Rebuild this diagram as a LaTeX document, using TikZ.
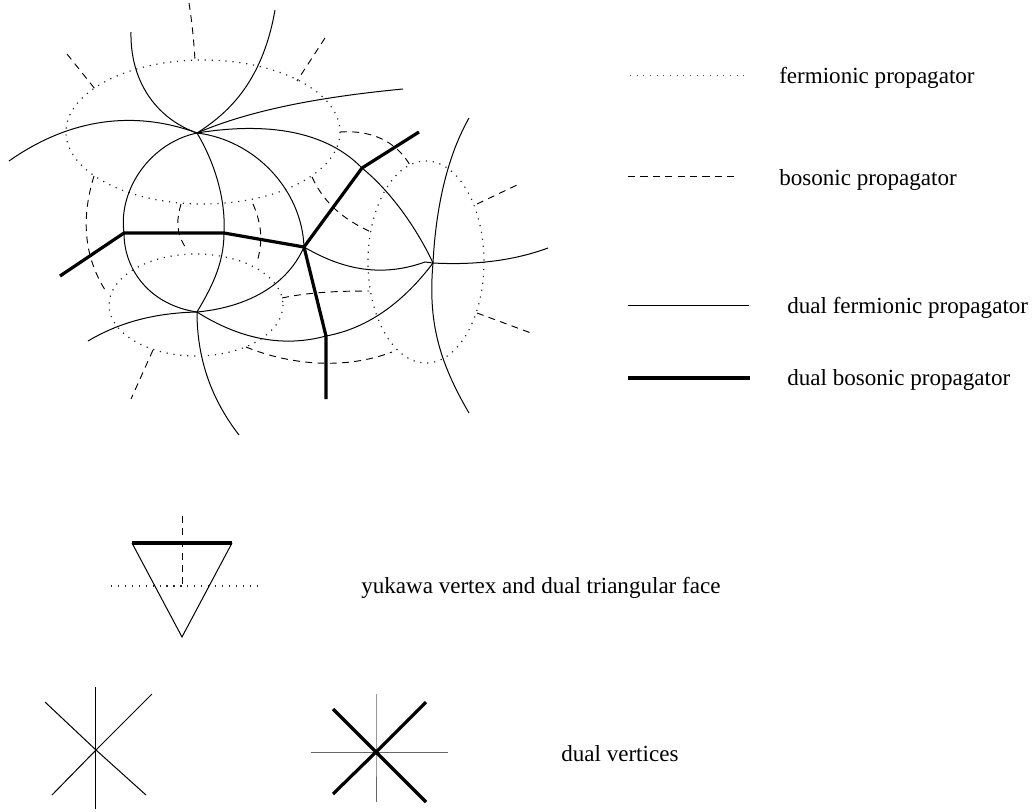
\documentclass[tikz,border=0pt]{standalone}
\usepackage{fontspec}
\setmainfont{Liberation Serif}
\tikzset{
 x=0.75pt,y=-0.75pt,
 ferm/.style={line width=0.9pt,dash pattern=on 0.9pt off 4.3pt,black!85},
 bos/.style={line width=0.7pt,dash pattern=on 5.2pt off 4pt},
 dferm/.style={line width=0.75pt},
 dbos/.style={line width=2.4pt,line join=miter},
 lab/.style={anchor=west,inner sep=0pt,font=\fontsize{17.3pt}{19pt}\selectfont},
}
\begin{document}
\begin{tikzpicture}
\useasboundingbox (0,0) rectangle (1032,811);
% vertices
\coordinate (A) at (197,133);
\coordinate (B) at (304,247);
\coordinate (C) at (197,312);
\coordinate (D) at (433,263);
\coordinate (P) at (124,233);
\coordinate (Q) at (224,233);
\coordinate (R) at (362,168);
\coordinate (S) at (326,336);
% dotted ellipses
\draw[ferm] (203,132) ellipse [x radius=137,y radius=72];
\draw[ferm] (196,305) ellipse [x radius=87,y radius=51];
\draw[ferm] (426,262) ellipse [x radius=58,y radius=101];
% dashed
\draw[bos] (189,3) .. controls (192,22) and (194,42) .. (195,61);
\draw[bos] (67,54) -- (95,89);
\draw[bos] (325,38) -- (297,81);
\draw[bos] (94,176) .. controls (82,215) and (82,255) .. (107,293);
\draw[bos] (181,204) .. controls (177,218) and (175,232) .. (186,248);
\draw[bos] (253,204) .. controls (262,225) and (263,242) .. (257,262);
\draw[bos] (340,132) .. controls (370,130) and (395,140) .. (410,165);
\draw[bos] (312,177) .. controls (325,205) and (345,220) .. (371,232);
\draw[bos] (282,298) .. controls (310,292) and (340,291) .. (369,291);
\draw[bos] (246,347) .. controls (290,365) and (345,370) .. (392,352);
\draw[bos] (477,204) -- (517,185);
\draw[bos] (477,313) -- (531,333);
\draw[bos] (153,350) -- (131,399);
% thin dual lines
\coordinate (a1) at (9,161);
\coordinate (a2) at (131,32);
\coordinate (a3) at (275,10);
\coordinate (a4) at (403,89);
\coordinate (c1) at (88,341);
\coordinate (c2) at (239,435);
\coordinate (d1) at (469,118);
\coordinate (d2) at (469,413);
\coordinate (d3) at (548,248);
\draw[dferm] (a1) .. controls (70,118) and (135,110) .. (A);
\draw[dferm] (a2) .. controls (130,80) and (155,118) .. (A);
\draw[dferm] (a3) .. controls (262,85) and (225,115) .. (A);
\draw[dferm] (A) .. controls (255,108) and (330,96) .. (a4);
\draw[dferm] (A) .. controls (150,143) and (118,190) .. (P);
\draw[dferm] (A) .. controls (212,158) and (226,195) .. (Q);
\draw[dferm] (A) .. controls (255,140) and (302,190) .. (B);
\draw[dferm] (A) .. controls (265,122) and (325,130) .. (R);
\draw[dferm] (R) .. controls (395,195) and (420,235) .. (D);
\draw[dferm] (P) .. controls (124,270) and (150,305) .. (C);
\draw[dferm] (Q) .. controls (224,265) and (210,290) .. (C);
\draw[dferm] (C) .. controls (240,308) and (285,290) .. (B);
\draw[dferm] (c1) .. controls (120,322) and (155,313) .. (C);
\draw[dferm] (C) .. controls (197,360) and (212,400) .. (c2);
\draw[dferm] (C) .. controls (230,333) and (275,350) .. (S);
\draw[dferm] (S) .. controls (370,328) and (405,300) .. (D);
\draw[dferm] (B) .. controls (335,265) and (375,280) .. (425,262) -- (D);
\draw[dferm] (D) .. controls (470,265) and (510,262) .. (d3);
\draw[dferm] (d1) .. controls (448,155) and (436,205) .. (D);
\draw[dferm] (D) .. controls (428,320) and (438,360) .. (d2);
% thick dual lines
\coordinate (t1) at (60,276);
\coordinate (t2) at (419,132);
\coordinate (t3) at (326,399);
\draw[dbos] (t1) -- (P) -- (Q) -- (B) -- (R) -- (t2);
\draw[dbos] (B) -- (S) -- (t3);
% legend
\coordinate (l1a) at (630,75); \coordinate (l1b) at (745,75);
\coordinate (l2a) at (628,176); \coordinate (l2b) at (738,176);
\coordinate (l3a) at (628,305); \coordinate (l3b) at (749,305);
\coordinate (l4a) at (628,378); \coordinate (l4b) at (750,378);
\draw[ferm,line width=0.6pt,dash pattern=on 0.6pt off 4.4pt,black!70] (l1a) -- (l1b);
\draw[bos,dash pattern=on 5.4pt off 3.9pt] (l2a) -- (l2b);
\draw[dferm] (l3a) -- (l3b);
\draw[dbos] (l4a) -- (l4b);
\node[lab] (t-f) at (779,78) {fermionic propagator};
\node[lab] (t-b) at (779,180) {bosonic propagator};
\node[lab] (t-df) at (787,308) {dual fermionic propagator};
\node[lab] (t-db) at (787,380) {dual bosonic propagator};
% yukawa
\coordinate (y1) at (132,543); \coordinate (y2) at (232,543); \coordinate (y3) at (182,637);
\coordinate (y4) at (182,516); \coordinate (y5) at (182,586);
\coordinate (y6) at (111,586); \coordinate (y7) at (257,586);
\draw[ferm] (y6) -- (y7);
\draw[bos] (y4) -- (y5);
\draw[dferm] (y1) -- (y3) -- (y2);
\draw[dbos] (y1) -- (y2);
\node[lab] (t-y) at (361,588) {yukawa vertex and dual triangular face};
% dual vertices
\coordinate (u0) at (96,750);
\draw[dferm] (95.5,687) -- (95.5,809);
\draw[dferm] (45,702) -- (u0) -- (146,795);
\draw[dferm] (152,694) -- (u0) -- (52,795);
\coordinate (v0) at (376,752);
\draw[dferm,black!60] (311,752) -- (v0) -- (448,752);
\draw[dferm,black!60] (376,694) -- (v0) -- (376,802);
\draw[dbos] (333,709) -- (v0) -- (426,802);
\draw[dbos] (426,702) -- (v0) -- (333,794);
\node[lab] (t-v) at (561,754) {dual vertices};
\end{tikzpicture}
\end{document}
